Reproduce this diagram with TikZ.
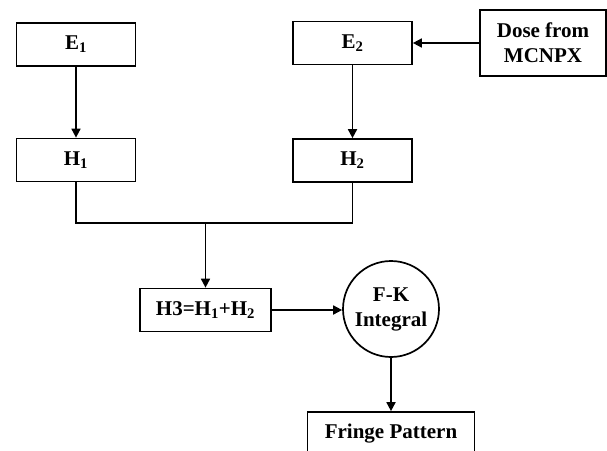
\documentclass[tikz,border=0pt]{standalone}
\usepackage{fontspec}
\setmainfont{Liberation Serif}
\usetikzlibrary{arrows.meta}

\begin{document}
\begin{tikzpicture}[
  x=1pt,
  y=-1pt,
  block/.style={
    draw,
    line width=1.7pt,
    minimum width=119pt,
    minimum height=43pt,
    inner sep=0pt,
    align=center,
    font=\fontsize{21}{25}\selectfont\bfseries
  },
  round block/.style={
    block,
    circle,
    minimum width=96pt,
    minimum height=96pt
  },
  flow/.style={
    line width=1.7pt,
    -{Triangle[length=9pt,width=9pt]}
  },
  link/.style={
    line width=1.7pt
  },
]
\clip (0,0) rectangle (607,450);
\useasboundingbox (0,0) rectangle (607,450);

\node[block] (E1) at (76,44.5) {E\textsubscript{1}};
\node[block] (H1) at (76,160) {H\textsubscript{1}};
\node[block] (E2) at (352.5,43) {E\textsubscript{2}};
\node[block] (H2) at (352.5,160.5) {H\textsubscript{2}};
\node[block, minimum width=126pt, minimum height=66pt] (dose) at (543,43) {Dose from\\MCNPX};
\node[block, minimum width=131pt] (H3) at (205.5,310) {H3=H\textsubscript{1}+H\textsubscript{2}};
\node[round block] (FK) at (391,309) {F-K\\Integral};
\node[block, minimum width=167pt, minimum height=44pt] (fringe) at (391,434) {Fringe Pattern};

\coordinate (join) at (205.5,223);

\draw[flow] (E1.south) -- (H1.north);
\draw[flow] (E2.south) -- (H2.north);
\draw[flow] (dose.west) -- (E2.east);
\draw[link] (H1.south) -- (H1.south |- join) -- (H2.south |- join) -- (H2.south);
\draw[flow] (join) -- (H3.north);
\draw[flow] (H3.east) -- (H3.east -| FK.west);
\draw[flow] (FK.south) -- (fringe.north);
\end{tikzpicture}
\end{document}
